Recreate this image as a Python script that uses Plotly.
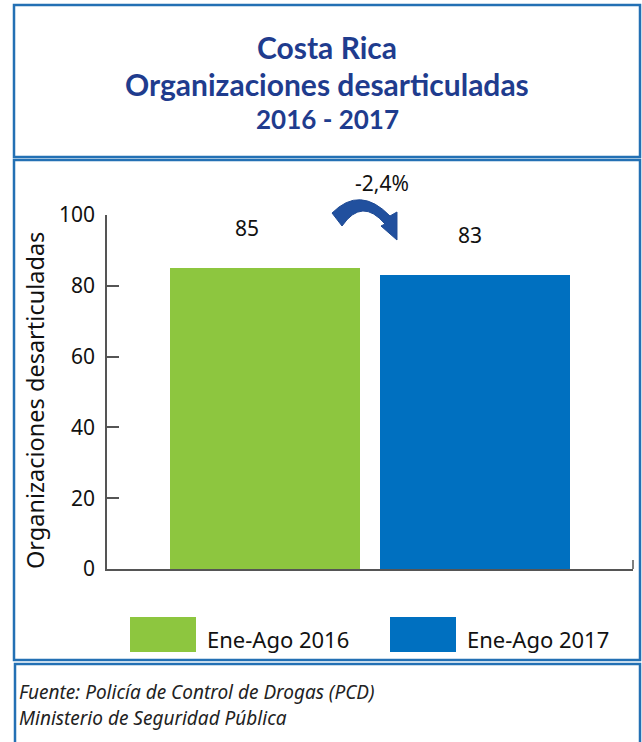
import plotly.graph_objects as go

# data
periods = ["Ene-Ago 2016", "Ene-Ago 2017"]
organizaciones = [85, 83]
bar_colors = ["#8DC63F", "#0070C0"]
variacion = "-2,4%"
y_ticks = [0, 20, 40, 60, 80, 100]

W, H = 642, 742
ML, MR, MT, MB = 107, 9, 215, 173
PW, PH = W - ML - MR, H - MT - MB


def px(x):
    # pixel -> paper x
    return (x - ML) / PW


def py(y):
    # pixel -> paper y
    return (H - MB - y) / PH


fig = go.Figure()
fig.add_trace(go.Bar(
    x=[0, 1],
    y=organizaciones,
    marker=dict(color=bar_colors, line=dict(width=0)),
    width=0.905,
    showlegend=False,
    hoverinfo="y",
))

BORDER = "#2370B4"
shapes = []
# frames
for x0, y0, x1, y1 in [(14, 5, 640, 157), (14, 160, 640, 660), (15, 664, 640, 760)]:
    shapes.append(dict(type="rect", xref="paper", yref="paper",
                       x0=px(x0), x1=px(x1), y0=py(y1), y1=py(y0),
                       line=dict(color=BORDER, width=2.5), layer="below"))
# small end tick on x axis
shapes.append(dict(type="line", xref="paper", yref="paper",
                   x0=1, x1=1, y0=0, y1=py(560),
                   line=dict(color="#555555", width=1.5)))

# curved arrow
pts = [("M", 332, 213), ("Q", 360, 185, 390, 216), ("L", 397, 212), ("L", 397, 240),
       ("L", 381, 226), ("L", 385, 224), ("Q", 362, 197, 342, 226)]
path = ""
for p in pts:
    cmd, coords = p[0], p[1:]
    xy = []
    for i in range(0, len(coords), 2):
        xy.append(f"{px(coords[i]):.4f},{py(coords[i + 1]):.4f}")
    path += cmd + " " + " ".join(xy) + " "
path += "Z"
shapes.append(dict(type="path", xref="paper", yref="paper", path=path,
                   fillcolor="#21509E", line=dict(color="#1F4A94", width=1)))

# legend boxes
for i, (x0, x1) in enumerate([(130, 196), (390, 456)]):
    shapes.append(dict(type="rect", xref="paper", yref="paper",
                       x0=px(x0), x1=px(x1), y0=py(652), y1=py(617),
                       fillcolor=bar_colors[i], line=dict(width=0)))

TITLE_C = "#1F3C8E"
ann = []
for txt, y, sz in [("Costa Rica", 47, 30), ("Organizaciones desarticuladas", 84, 30), ("2016 - 2017", 119, 26)]:
    ann.append(dict(text=f"<b>{txt}</b>", xref="paper", yref="paper", x=px(327), y=py(y),
                    xanchor="center", yanchor="middle", showarrow=False,
                    font=dict(family="Lato", size=sz, color=TITLE_C)))

# value labels
for i, v in enumerate(organizaciones):
    ann.append(dict(text=str(v), xref="x", yref="y", x=i - 0.085 + 0.06 * i, y=v, yshift=40,
                    xanchor="center", yanchor="middle", showarrow=False,
                    font=dict(family="Noto Sans", size=21, color="#111111")))
ann.append(dict(text=variacion, xref="paper", yref="paper", x=px(382), y=py(183),
                xanchor="center", yanchor="middle", showarrow=False,
                font=dict(family="Noto Sans", size=21, color="#111111")))

# axis title
ann.append(dict(text="Organizaciones desarticuladas", xref="paper", yref="paper",
                x=px(35), y=py(401), textangle=-90, showarrow=False,
                xanchor="center", yanchor="middle",
                font=dict(family="Noto Sans", size=23.5, color="#111111")))

# legend text
for name, x in zip(periods, [205, 465]):
    ann.append(dict(text=name, xref="paper", yref="paper", x=px(x), y=py(639),
                    xanchor="left", yanchor="middle", showarrow=False,
                    font=dict(family="Noto Sans", size=22, color="#111111")))

# source
for txt, y in [("Fuente: Policía de Control de Drogas (PCD)", 692), ("Ministerio de Seguridad Pública", 718)]:
    ann.append(dict(text=f"<i>{txt}</i>", xref="paper", yref="paper", x=px(17), y=py(y),
                    xanchor="left", yanchor="middle", showarrow=False,
                    font=dict(family="Noto Sans", size=19, color="#222222")))

fig.update_layout(
    width=W, height=H,
    margin=dict(l=ML, r=MR, t=MT, b=MB),
    paper_bgcolor="white", plot_bgcolor="white",
    shapes=shapes, annotations=ann,
    showlegend=False,
    bargap=0,
)
fig.update_xaxes(range=[-0.752, 1.752], showticklabels=False, ticks="",
                 showgrid=False, zeroline=False, showline=True,
                 linecolor="#555555", linewidth=1.5, fixedrange=True)
fig.update_yaxes(range=[0, 100], tickvals=y_ticks, ticks="inside", ticklen=12,
                 tickcolor="#555555", tickwidth=1.5, showgrid=False, zeroline=False,
                 showline=True, linecolor="#555555", linewidth=1.5,
                 ticklabelstandoff=6,
                 tickfont=dict(family="Noto Sans", size=21, color="#111111"),
                 fixedrange=True)

fig.write_html("out.html", config={"displayModeBar": False},
               post_script="document.body.style.margin='0px';")
